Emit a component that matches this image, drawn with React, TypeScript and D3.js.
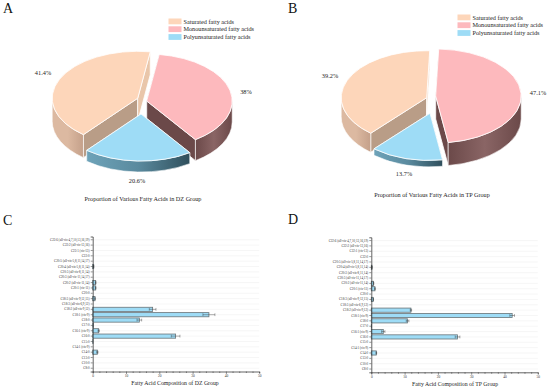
import React, { useEffect, useRef } from "react";
import * as d3 from "d3";

const SERIF = "'Liberation Serif','Times New Roman',serif";

const groups = ["Saturated fatty acids", "Monounsaturated fatty acids", "Polyunsaturated fatty acids"];
const dzShares = [41.4, 38, 20.6];
const tpShares = [39.2, 47.1, 13.7];
const dzShareLabels = ["41.4%", "38%", "20.6%"];
const tpShareLabels = ["39.2%", "47.1%", "13.7%"];

const fattyAcids = [
  "C22:6 (all-cis-4,7,10,13,16,19)",
  "C22:2 (all-cis-13,16)",
  "C22:1 (cis-13)",
  "C22:0",
  "C20:5 (all-cis-5,8,11,14,17)",
  "C20:4 (all-cis-5,8,11,14)",
  "C20:3 (all-cis-8,11,14)",
  "C20:3 (all-cis-11,14,17)",
  "C20:2 (all-cis-11,14)",
  "C20:1 (cis-11)",
  "C20:0",
  "C18:3 (all-cis-9,12,15)",
  "C18:3 (all-cis-6,9,12)",
  "C18:2 (all-cis-9,12)",
  "C18:1 (cis-9)",
  "C18:0",
  "C17:0",
  "C16:1 (cis-9)",
  "C16:0",
  "C15:0",
  "C14:1 (cis-9)",
  "C14:0",
  "C13:0",
  "C10:0",
  "C8:0",
];
const dzValues = [0, 0, 0, 0, 0, 0.3, 0, 0, 0.9, 0.9, 0, 0.7, 0, 18, 34.9, 14, 0.2, 1.8, 24.9, 0.1, 0, 1.4, 0, 0, 0];
const dzErrors = [0, 0, 0, 0, 0, 0.05, 0, 0, 0.1, 0.1, 0, 0.1, 0, 1, 1.8, 0.7, 0, 0.2, 1.3, 0, 0, 0.2, 0, 0, 0];
const tpValues = [0, 0, 0, 0, 0, 0.2, 0, 0, 0.7, 1.1, 0, 0.6, 0, 11.9, 42.3, 10.9, 0.1, 3.6, 25.9, 0, 0, 1.5, 0, 0, 0];
const tpErrors = [0, 0, 0, 0, 0, 0.05, 0, 0, 0.05, 0.1, 0, 0.05, 0, 0.2, 0.7, 0.4, 0, 0.5, 0.7, 0, 0, 0.1, 0, 0, 0];

const topColors = ["#fdd6ba", "#fdb9bd", "#9edcf6"];
const cutStart = ["#b99d87", "#6b4949", "#5f92a8"];
const cutEnd = ["#e9c6aa", "#6b4949", "#5f92a8"];
const wallColors = [
  ["#dcb9a1", "#dcb9a1", "#c4a08a"],
  ["#6b4949", "#8a6565", "#6b4949"],
  ["#6ea3b9", "#5a8a9e", "#2f4f5c"],
];

const rad = (deg: number) => (deg * Math.PI) / 180;
const TILT = 0.55;
const RADIUS = 85.5;

type PieProps = {
  id: string;
  shares: number[];
  shareLabels: string[];
  startDeg: number;
  apex: number[][];
  depth: number[];
  labelPos: number[][];
  legendX: number;
  legendY: number;
  title: string;
  titleX: number;
  titleY: number;
};

function rimPoint(a: number, cx: number, cy: number) {
  return [cx + RADIUS * Math.sin(a), cy - RADIUS * TILT * Math.cos(a)];
}

function Pie3D(p: PieProps) {
  const arcs = d3
    .pie<number>()
    .sort(null)
    .startAngle(rad(p.startDeg))
    .endAngle(rad(p.startDeg) + Math.PI * 2)(p.shares);
  const arc = d3.arc<any>().innerRadius(0).outerRadius(RADIUS);

  return (
    <g>
      <defs>
        {wallColors.map((c, i) => (
          <linearGradient key={i} id={`${p.id}-wall-${i}`} x1="0" x2="1" y1="0" y2="0">
            <stop offset="0" stopColor={c[0]} />
            <stop offset="0.5" stopColor={c[1]} />
            <stop offset="1" stopColor={c[2]} />
          </linearGradient>
        ))}
      </defs>
      {arcs.map((d, i) => {
        const [cx, cy] = p.apex[i];
        const h = p.depth[i];
        const cut = (a: number) => {
          const [x, y] = rimPoint(a, cx, cy);
          return `M${cx},${cy}L${x},${y}L${x},${y + h}L${cx},${cy + h}Z`;
        };
        // only the front half of the rim shows a wall
        const walls = [
          [Math.PI / 2, (3 * Math.PI) / 2],
          [(5 * Math.PI) / 2, (7 * Math.PI) / 2],
        ]
          .map(([lo, hi]) => [Math.max(lo, d.startAngle), Math.min(hi, d.endAngle)])
          .filter(([a, b]) => b > a);
        return (
          <g key={i}>
            <path d={cut(d.startAngle)} fill={cutStart[i]} stroke="#fff" strokeWidth={0.8} />
            <path d={cut(d.endAngle)} fill={cutEnd[i]} stroke="#fff" strokeWidth={0.8} />
            {walls.map(([a, b], j) => {
              const [x0, y0] = rimPoint(a, cx, cy);
              const [x1, y1] = rimPoint(b, cx, cy);
              const ry = RADIUS * TILT;
              return (
                <path
                  key={j}
                  d={`M${x0},${y0}A${RADIUS},${ry} 0 0 1 ${x1},${y1}L${x1},${y1 + h}A${RADIUS},${ry} 0 0 0 ${x0},${y0 + h}Z`}
                  fill={`url(#${p.id}-wall-${i})`}
                  stroke="#fff"
                  strokeWidth={0.6}
                />
              );
            })}
            <path
              d={arc(d) as string}
              transform={`translate(${cx},${cy}) scale(1,${TILT})`}
              fill={topColors[i]}
              stroke="#fff"
              strokeWidth={0.8}
              vectorEffect="non-scaling-stroke"
            />
          </g>
        );
      })}
      {p.shareLabels.map((t, i) => (
        <text key={t} x={p.labelPos[i][0]} y={p.labelPos[i][1]} textAnchor="middle" fontSize={6.3} fill="#222" fontFamily={SERIF}>
          {t}
        </text>
      ))}
      {groups.map((g, i) => (
        <g key={g}>
          <rect x={p.legendX} y={p.legendY + i * 7.8} width={13} height={5.8} fill={topColors[i]} />
          <text x={p.legendX + 15} y={p.legendY + 5 + i * 7.8} fontSize={6.2} fill="#222" fontFamily={SERIF}>
            {g}
          </text>
        </g>
      ))}
      <text x={p.titleX} y={p.titleY} textAnchor="middle" fontSize={6.2} fill="#222" fontFamily={SERIF}>
        {p.title}
      </text>
    </g>
  );
}

type BarProps = {
  values: number[];
  errors: number[];
  left: number;
  top: number;
  title: string;
  titleX: number;
};

function BarPanel({ values, errors, left, top, title, titleX }: BarProps) {
  const ref = useRef<SVGGElement>(null);
  const idx = fattyAcids.map((_, i) => i);
  const x = d3.scaleLinear().domain([0, 50]).range([left, left + 166.5]);
  const y = d3.scaleBand<number>().domain(idx).range([top, top + 135]).padding(0.22);
  const bottom = top + 135;

  useEffect(() => {
    const g = d3.select(ref.current);
    g.selectAll("*").remove();
    const yAxis = g
      .append("g")
      .attr("transform", `translate(${left},0)`)
      .call(d3.axisLeft(y).tickSize(2).tickPadding(1.2).tickFormat((i) => fattyAcids[i as number]));
    const xAxis = g
      .append("g")
      .attr("transform", `translate(0,${bottom})`)
      .call(
        d3
          .axisBottom(x)
          .tickValues(d3.range(0, 51, 2))
          .tickSize(1.5)
          .tickPadding(1.5)
          .tickFormat((v) => (+v % 10 === 0 ? String(v) : ""))
      );
    xAxis.selectAll("line").filter((v: any) => v % 10 === 0).attr("y2", 2.5);
    for (const a of [yAxis, xAxis]) {
      a.selectAll("text").attr("font-family", SERIF).attr("fill", "#333");
      a.selectAll("line").attr("stroke", "#333").attr("stroke-width", 0.5);
      a.select(".domain").attr("stroke", "#222").attr("stroke-width", 0.7);
    }
    yAxis.selectAll("text").attr("font-size", 3.2);
    xAxis.selectAll("text").attr("font-size", 3.5);
  }, []);

  return (
    <g>
      {idx.map((i) => (
        <line
          key={i}
          x1={x(0)}
          x2={x(50)}
          y1={(y(i) as number) + y.bandwidth() / 2}
          y2={(y(i) as number) + y.bandwidth() / 2}
          stroke="#ececec"
          strokeWidth={0.5}
        />
      ))}
      {values.map((v, i) =>
        v > 0 ? (
          <rect
            key={i}
            x={x(0)}
            y={y(i)}
            width={x(v) - x(0)}
            height={y.bandwidth()}
            fill="#9edcf6"
            stroke="#6a7478"
            strokeWidth={0.8}
          />
        ) : null
      )}
      {values.map((v, i) => {
        if (!errors[i]) return null;
        const cy = (y(i) as number) + y.bandwidth() / 2;
        return (
          <g key={i} stroke="#333" strokeWidth={0.4}>
            <line x1={x(v - errors[i])} x2={x(v + errors[i])} y1={cy} y2={cy} />
            <line x1={x(v - errors[i])} x2={x(v - errors[i])} y1={cy - 1.4} y2={cy + 1.4} />
            <line x1={x(v + errors[i])} x2={x(v + errors[i])} y1={cy - 1.4} y2={cy + 1.4} />
          </g>
        );
      })}
      <g ref={ref} />
      <text x={titleX} y={bottom + 13.5} textAnchor="middle" fontSize={5.8} fill="#222" fontFamily={SERIF}>
        {title}
      </text>
    </g>
  );
}

const panelLetters = [
  ["A", 3, 13],
  ["B", 288, 13],
  ["C", 3, 225],
  ["D", 288, 224],
] as const;

export default function App() {
  return (
    <svg width={550} height={392} style={{ position: "absolute", left: 0, top: 0, background: "#fff" }}>
      {panelLetters.map(([t, x, y]) => (
        <text key={t} x={x} y={y} fontSize={14} fill="#111" fontFamily={SERIF}>
          {t}
        </text>
      ))}
      <Pie3D
        id="dz"
        shares={dzShares}
        shareLabels={dzShareLabels}
        startDeg={219.4}
        apex={[[137.7, 98.3], [146.7, 101], [141, 114]]}
        depth={[23, 21, 11]}
        labelPos={[[43, 75], [246, 93.5], [137, 183]]}
        legendX={168.5}
        legendY={18.5}
        title="Proportion of Various Fatty Acids in DZ Group"
        titleX={143}
        titleY={201}
      />
      <Pie3D
        id="tp"
        shares={tpShares}
        shareLabels={tpShareLabels}
        startDeg={220.9}
        apex={[[426.7, 97.7], [435.7, 96], [430, 113.3]]}
        depth={[19, 23, 6.5]}
        labelPos={[[330, 78], [538, 95], [404, 176]]}
        legendX={457.5}
        legendY={14.5}
        title="Proportion of Various Fatty Acids in TP Group"
        titleX={432}
        titleY={197}
      />
      <BarPanel
        values={dzValues}
        errors={dzErrors}
        left={92.7}
        top={236.5}
        title="Fatty Acid Composition of DZ Group"
        titleX={175}
      />
      <BarPanel
        values={tpValues}
        errors={tpErrors}
        left={371.3}
        top={237.3}
        title="Fatty Acid Composition of TP Group"
        titleX={455}
      />
    </svg>
  );
}
